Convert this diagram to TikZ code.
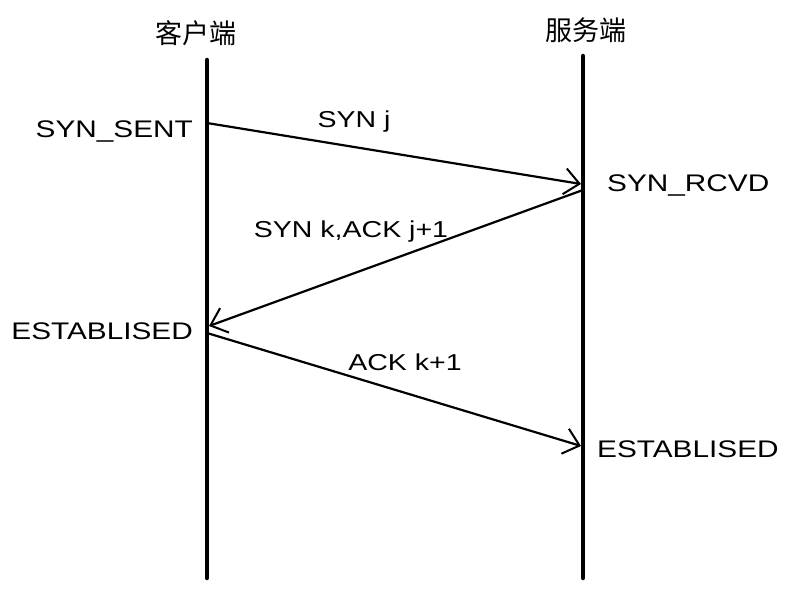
\documentclass[tikz,border=0pt]{standalone}
\usepackage{fontspec}
\setmainfont{Liberation Sans}
\newfontfamily\widefont[FakeStretch=1.24]{Liberation Sans}
\newfontfamily\cjk{Noto Sans CJK SC}
\usetikzlibrary{arrows.meta}
\tikzset{
  lifeline/.style={line width=4.5pt, line cap=round},
  msg/.style={line width=2.2pt, -{Straight Barb[length=15pt,width=26pt,line width=2pt]}},
  title/.style={font=\cjk\fontsize{27}{30}\selectfont, inner sep=0pt},
  state/.style={font=\widefont\fontsize{24}{28}\selectfont, inner sep=0pt},
  lbl/.style={font=\widefont\fontsize{23}{26}\selectfont, inner sep=0pt}
}
\begin{document}
\begin{tikzpicture}[x=1pt,y=-1pt]
\useasboundingbox (0,0) rectangle (794,591);
% lifelines
\coordinate (ctop) at (207,60);
\coordinate (cbot) at (207,578);
\coordinate (stop) at (583,56);
\coordinate (sbot) at (583,578);
\draw[lifeline] (ctop) -- (cbot);
\draw[lifeline] (stop) -- (sbot);
\node[title] (ctitle) at (196,33) {客户端};
\node[title] (stitle) at (586,30) {服务端};
% message points
\coordinate (c1) at (207,123);
\coordinate (s1) at (581,184);
\coordinate (s2) at (583,190);
\coordinate (c2) at (209,326);
\coordinate (c3) at (207,333);
\coordinate (s3) at (581,446);
\draw[msg] (c1) -- (s1);
\draw[msg] (s2) -- (c2);
\draw[msg] (c3) -- (s3);
% labels
\node[lbl] (l1) at (354,122) {SYN j};
\node[lbl] (l2) at (351,232) {SYN k,ACK j+1};
\node[lbl] (l3) at (405,362) {ACK k+1};
% states
\node[state, anchor=east] (st1) at (193,132) {SYN\_SENT};
\node[state, anchor=west] (st2) at (607,186) {SYN\_RCVD};
\node[state, anchor=east] (st3) at (193,331) {ESTABLISED};
\node[state, anchor=west] (st4) at (597,449) {ESTABLISED};
\end{tikzpicture}
\end{document}
